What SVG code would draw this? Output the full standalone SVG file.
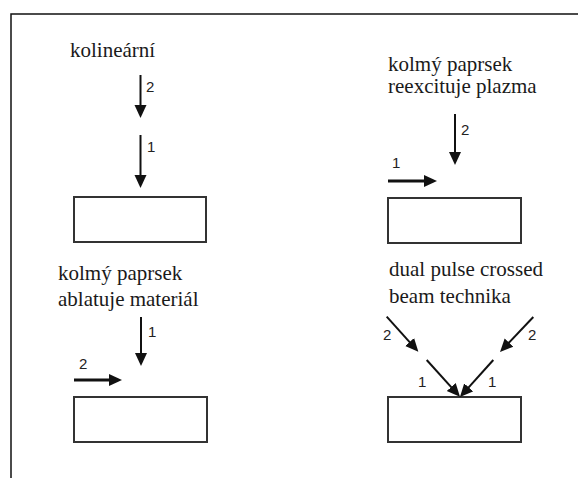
<svg xmlns="http://www.w3.org/2000/svg" width="578" height="478" viewBox="0 0 578 478">
<style>
.box{fill:#fff;stroke:#333;stroke-width:2}
.ar{stroke:#111;stroke-width:2;fill:none;marker-end:url(#ah)}
.arT{stroke:#111;stroke-width:3.2;fill:none;marker-end:url(#ah)}
.frame{stroke:#111;stroke-width:1.5;fill:none}
.lbl{font-family:'Liberation Serif','Times New Roman','DejaVu Serif',Times,serif;font-size:21px;fill:#1a1a1a}
.num{font-family:'Liberation Sans',Arial,Helvetica,sans-serif;font-size:15px;fill:#222}
</style>
<defs>
<marker id="ah" markerUnits="userSpaceOnUse" markerWidth="14" markerHeight="14" refX="0" refY="7" orient="auto" viewBox="-1 0 14 14">
<path d="M-1,1 L12,7 L-1,13 z" fill="#111"/>
</marker>
</defs>
<rect width="578" height="478" fill="#fff"/>
<path class="frame" d="M11,478 V14 H578"/>

<g id="panel-kolinearni">
<text class="lbl" x="70" y="57">kolineární</text>
<rect id="target1" class="box" x="74" y="197" width="132" height="45"/>
<text class="num" x="146" y="92">2</text>
<text class="num" x="147" y="152">1</text>
</g>

<g id="panel-reexcituje">
<text class="lbl" x="388" y="71">kolmý paprsek</text>
<text class="lbl" x="388" y="93">reexcituje plazma</text>
<rect id="target2" class="box" x="388" y="198" width="133" height="45"/>
<text class="num" x="461" y="135">2</text>
<text class="num" x="392" y="168">1</text>
</g>

<g id="panel-ablatuje">
<text class="lbl" x="58" y="280">kolmý paprsek</text>
<text class="lbl" x="58" y="306">ablatuje materiál</text>
<rect id="target3" class="box" x="74" y="397" width="133" height="45"/>
<text class="num" x="148" y="337">1</text>
<text class="num" x="79" y="369">2</text>
</g>

<g id="panel-crossed">
<text class="lbl" x="389" y="276">dual pulse crossed</text>
<text class="lbl" x="389" y="303">beam technika</text>
<rect id="target4" class="box" x="388" y="397" width="133" height="45"/>
<text class="num" x="383" y="340">2</text>
<text class="num" x="528" y="340">2</text>
<text class="num" x="418" y="387">1</text>
<text class="num" x="488" y="387">1</text>
</g>

<g id="connectors">
<path class="ar" d="M140.5,75 V106"/>
<path class="ar" d="M140.5,135 V176"/>
<path class="ar" d="M455,114 V153"/>
<path class="arT" d="M388,181 H425"/>
<path class="ar" d="M141,317 V354"/>
<path class="arT" d="M74,380 H110"/>
<path class="ar" d="M386.7,316.7 L410.3,342.8"/>
<path class="ar" d="M426.7,360 L451.9,387.8"/>
<path class="ar" d="M533.3,317 L508.3,343.3"/>
<path class="ar" d="M493.3,360 L468,388.1"/>
</g>
</svg>
